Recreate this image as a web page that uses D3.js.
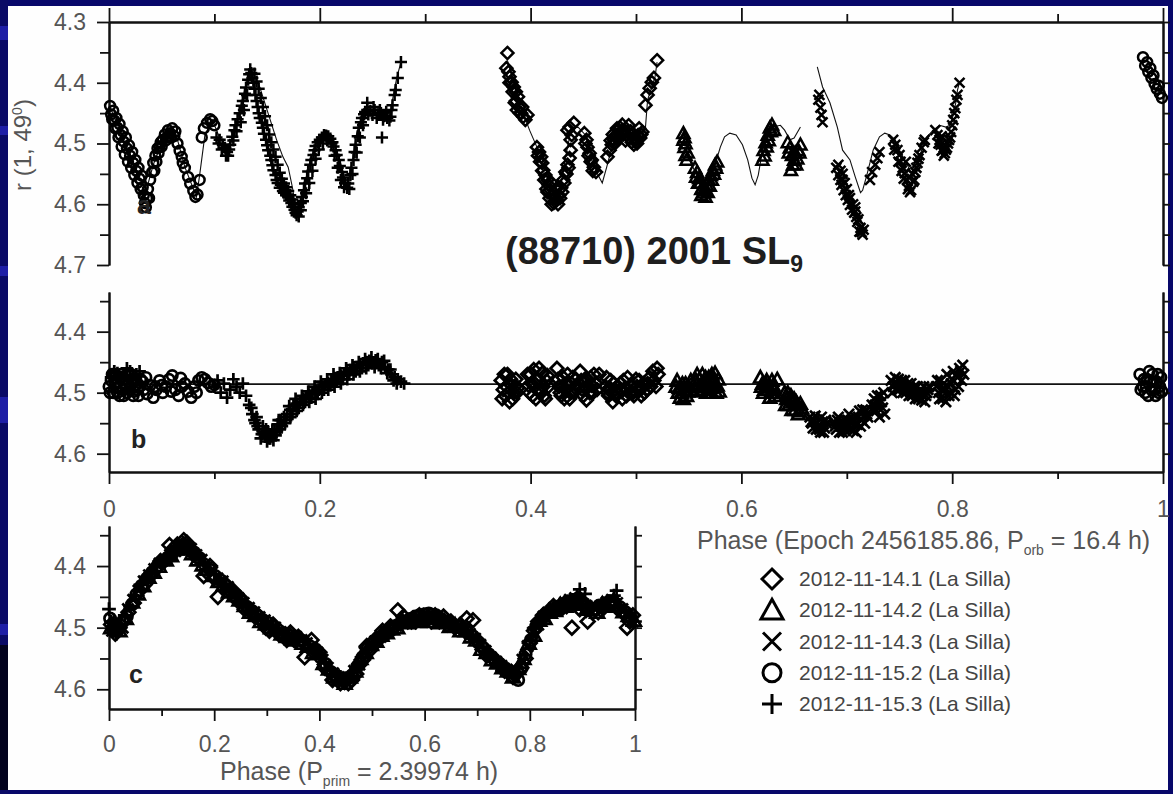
<!DOCTYPE html>
<html>
<head>
<meta charset="utf-8">
<script src="https://cdn.jsdelivr.net/npm/d3@7"></script>
<style>
  body { margin: 0; background: #08086a; }
  svg { display: block; }
  text { font-family: "Liberation Sans", Arial, sans-serif; }
</style>
</head>
<body>
<svg id="svg_lightcurve" width="1173" height="794"></svg>
<script>
// Light curve of (88710) 2001 SL9 - three panels (a: data + model, b: residual, c: folded on P_prim)

// Legend / sessions
const sessionLabels = ['2012-11-14.1 (La Silla)', '2012-11-14.2 (La Silla)', '2012-11-14.3 (La Silla)',
                       '2012-11-15.2 (La Silla)', '2012-11-15.3 (La Silla)'];
const sessionSymbols = ['diamond', 'triangle', 'cross', 'circle', 'plus'];

// Ticks
const phaseMajor = [0, 0.2, 0.4, 0.6, 0.8, 1];
const phaseMinor = [0.1, 0.3, 0.5, 0.7, 0.9];
const aMajor = [4.3, 4.4, 4.5, 4.6, 4.7];
const aMinor = [4.35, 4.45, 4.55, 4.65];
const bcMajor = [4.4, 4.5, 4.6];
const bcMinor = [4.35, 4.45, 4.55];
const residualLevel = 4.486;

// ---- Panel a: phase (orbital), r(1,49) ----
const a_circle = [
  [0.981,4.358],[0.983,4.372],[0.985,4.366],[0.986,4.382],[0.988,4.376],[0.989,4.392],[0.991,4.388],[0.992,4.402],[0.994,4.41],[0.996,4.405],[0.997,4.418],[0.999,4.425],
  [0.001,4.438],[0.002,4.452],[0.004,4.446],[0.005,4.462],[0.007,4.458],[0.008,4.474],[0.01,4.468],[0.011,4.486],[0.013,4.48],[0.014,4.497],[0.016,4.49],[0.017,4.508],
  [0.019,4.503],[0.02,4.52],[0.022,4.514],[0.023,4.532],[0.025,4.527],[0.026,4.545],[0.028,4.54],[0.029,4.558],[0.031,4.553],[0.032,4.572],[0.033,4.585],[0.034,4.598],
  [0.036,4.59],[0.037,4.575],[0.039,4.56],[0.041,4.547],[0.042,4.532],[0.044,4.52],[0.046,4.508],[0.047,4.516],[0.049,4.498],[0.051,4.494],[0.053,4.485],[0.055,4.49],
  [0.056,4.478],[0.058,4.483],[0.06,4.475],[0.062,4.488],[0.063,4.48],[0.065,4.5],[0.067,4.512],[0.069,4.522],[0.07,4.532],[0.072,4.54],[0.075,4.555],[0.077,4.566],
  [0.08,4.578],[0.082,4.588],[0.084,4.584],[0.086,4.56],[0.088,4.49],[0.09,4.475],[0.093,4.466],[0.096,4.46],[0.098,4.463],[0.1,4.47],
  [0.003,4.46],[0.006,4.475],[0.009,4.49],[0.012,4.505],[0.015,4.518],[0.018,4.53],[0.021,4.54],[0.024,4.552],[0.027,4.565],[0.03,4.575],[0.035,4.605],[0.038,4.59],
  [0.043,4.545],[0.045,4.53],[0.048,4.505],[0.05,4.505],[0.054,4.495],[0.057,4.488],[0.059,4.49]
];
const a_plus = [
  [0.102,4.49],[0.105,4.494],[0.108,4.502],[0.11,4.507],[0.112,4.514],[0.113,4.52],[0.115,4.502],[0.117,4.489],[0.119,4.478],[0.12,4.47],[0.122,4.46],[0.124,4.45],
  [0.126,4.438],[0.127,4.43],[0.129,4.418],[0.13,4.408],[0.132,4.395],[0.133,4.386],[0.134,4.378],[0.135,4.384],[0.136,4.392],[0.137,4.4],[0.138,4.41],[0.139,4.42],
  [0.14,4.43],[0.141,4.44],[0.142,4.45],[0.143,4.458],[0.145,4.466],[0.146,4.474],[0.147,4.484],[0.149,4.494],[0.15,4.503],[0.151,4.511],[0.153,4.52],[0.154,4.527],
  [0.155,4.536],[0.156,4.544],[0.158,4.552],[0.159,4.56],[0.16,4.565],[0.162,4.573],[0.163,4.568],[0.165,4.578],[0.166,4.581],[0.168,4.585],[0.17,4.588],[0.171,4.594],
  [0.173,4.598],[0.174,4.604],[0.176,4.609],[0.177,4.614],[0.178,4.618],[0.179,4.612],[0.18,4.605],[0.182,4.598],[0.183,4.588],[0.185,4.577],[0.186,4.566],[0.188,4.557],
  [0.189,4.546],[0.191,4.535],[0.192,4.527],[0.194,4.519],[0.195,4.511],[0.196,4.504],[0.198,4.498],[0.2,4.494],[0.202,4.49],[0.204,4.486],[0.206,4.487],[0.208,4.488],
  [0.21,4.492],[0.212,4.498],[0.213,4.505],[0.215,4.511],[0.216,4.519],[0.218,4.527],[0.219,4.537],[0.221,4.547],[0.222,4.556],[0.224,4.565],[0.226,4.573],[0.227,4.566],
  [0.229,4.552],[0.23,4.54],[0.232,4.527],[0.233,4.514],[0.234,4.502],[0.236,4.488],[0.237,4.474],[0.239,4.465],[0.24,4.458],[0.242,4.452],[0.243,4.448],[0.245,4.445],
  [0.245,4.433],[0.246,4.452],[0.248,4.446],[0.25,4.453],[0.251,4.44],[0.252,4.445],[0.254,4.458],[0.255,4.452],[0.257,4.445],[0.258,4.45],[0.259,4.49],[0.26,4.461],
  [0.261,4.455],[0.263,4.448],[0.264,4.458],[0.266,4.462],[0.267,4.456],[0.268,4.445],[0.269,4.437],[0.271,4.42],[0.272,4.412],[0.274,4.392],[0.277,4.366],
  [0.138,4.385],[0.14,4.398],[0.142,4.41],[0.144,4.425],[0.146,4.44],[0.148,4.455],[0.15,4.47],[0.152,4.485],[0.154,4.498],[0.156,4.51],[0.158,4.522],[0.16,4.535],
  [0.162,4.548],[0.164,4.558],[0.166,4.566],[0.168,4.572],[0.17,4.578],[0.172,4.585],[0.174,4.592],[0.176,4.6],[0.18,4.62],[0.182,4.61],[0.184,4.595],[0.187,4.582],
  [0.19,4.565],[0.193,4.545],[0.196,4.525],[0.199,4.51],[0.203,4.5],[0.207,4.495],[0.211,4.5],[0.214,4.52],[0.217,4.54],[0.22,4.56],[0.223,4.572],[0.228,4.575],
  [0.231,4.55],[0.235,4.515],[0.238,4.49],[0.241,4.47],
  [0.104,4.5],[0.107,4.51],[0.111,4.52],[0.114,4.51],[0.118,4.495],[0.121,4.48],[0.125,4.465],[0.128,4.445],[0.131,4.42]
];
const a_diamond = [
  [0.378,4.351],[0.377,4.376],[0.379,4.382],[0.38,4.39],[0.382,4.399],[0.384,4.407],[0.386,4.415],[0.388,4.423],[0.385,4.433],[0.387,4.445],[0.39,4.45],[0.393,4.456],
  [0.395,4.461],[0.397,4.453],[0.392,4.44],
  [0.406,4.506],[0.408,4.514],[0.41,4.522],[0.411,4.532],[0.412,4.544],[0.414,4.552],[0.416,4.56],[0.417,4.568],[0.419,4.577],[0.421,4.585],[0.423,4.59],[0.425,4.593],
  [0.427,4.585],[0.429,4.573],[0.431,4.56],[0.433,4.547],[0.435,4.535],[0.437,4.524],[0.438,4.511],[0.415,4.575],[0.42,4.565],[0.424,4.575],
  [0.435,4.478],[0.437,4.473],[0.439,4.486],[0.438,4.494],[0.441,4.466],
  [0.451,4.483],[0.453,4.494],[0.454,4.506],[0.456,4.516],[0.458,4.527],[0.46,4.539],[0.462,4.547],
  [0.473,4.522],[0.475,4.511],[0.477,4.502],[0.479,4.494],[0.481,4.486],[0.483,4.478],[0.485,4.474],[0.487,4.469],[0.489,4.478],[0.491,4.486],[0.492,4.481],[0.494,4.491],
  [0.496,4.498],[0.498,4.502],[0.5,4.494],[0.502,4.486],[0.504,4.491],[0.506,4.481],[0.48,4.5],[0.484,4.49],[0.49,4.495],[0.497,4.485],
  [0.509,4.437],[0.511,4.42],[0.513,4.409],[0.515,4.399],[0.517,4.392],[0.52,4.363],
  [0.407,4.52],[0.409,4.53],[0.411,4.545],[0.413,4.56],[0.416,4.58],[0.418,4.59],[0.42,4.6],[0.422,4.598],[0.426,4.6],[0.428,4.59],[0.43,4.58],[0.432,4.565],
  [0.434,4.55],[0.436,4.54],[0.452,4.5],[0.455,4.52],[0.457,4.53],[0.459,4.545],[0.476,4.495],[0.478,4.485],[0.482,4.475],[0.486,4.48],[0.488,4.485],[0.493,4.47],
  [0.495,4.48],[0.499,4.49],[0.501,4.5],[0.503,4.475],[0.505,4.485],[0.38,4.4],[0.383,4.415],[0.386,4.43],[0.389,4.44],[0.391,4.45]
];
const a_triangle = [
  [0.545,4.483],[0.545,4.494],[0.546,4.506],[0.547,4.519],[0.548,4.527],
  [0.556,4.54],[0.558,4.547],[0.56,4.557],[0.561,4.565],[0.563,4.573],[0.564,4.581],[0.565,4.577],[0.567,4.568],[0.569,4.56],[0.571,4.552],[0.573,4.544],[0.575,4.535],
  [0.577,4.53],[0.562,4.585],[0.566,4.588],
  [0.62,4.527],[0.621,4.511],[0.623,4.498],[0.625,4.486],[0.627,4.474],[0.629,4.469],[0.631,4.478],
  [0.644,4.498],[0.646,4.507],[0.648,4.519],[0.65,4.527],[0.652,4.535],[0.654,4.511],[0.656,4.502],[0.647,4.544],[0.651,4.515],
  [0.546,4.49],[0.547,4.5],[0.549,4.515],[0.557,4.555],[0.559,4.565],[0.562,4.575],[0.568,4.58],[0.57,4.57],[0.572,4.56],[0.574,4.55],[0.576,4.54],
  [0.622,4.52],[0.624,4.505],[0.626,4.495],[0.628,4.48],[0.645,4.515],[0.649,4.535],[0.653,4.525],[0.655,4.515]
];
const a_cross = [
  [0.673,4.428],[0.674,4.42],[0.675,4.441],[0.676,4.453],[0.677,4.465],
  [0.69,4.54],[0.692,4.552],[0.694,4.56],[0.695,4.568],[0.697,4.577],[0.699,4.585],[0.701,4.593],[0.703,4.601],[0.705,4.609],[0.707,4.614],[0.709,4.621],[0.71,4.629],
  [0.713,4.639],[0.714,4.646],[0.716,4.642],[0.696,4.56],[0.702,4.585],[0.708,4.605],
  [0.722,4.56],[0.724,4.547],[0.727,4.535],[0.729,4.524],[0.731,4.514],
  [0.744,4.494],[0.746,4.502],[0.748,4.511],[0.75,4.519],[0.751,4.53],[0.753,4.54],[0.755,4.549],[0.757,4.56],[0.759,4.57],[0.761,4.577],[0.763,4.563],[0.765,4.547],
  [0.767,4.532],[0.769,4.519],[0.771,4.507],[0.773,4.498],[0.774,4.494],[0.756,4.53],[0.762,4.55],
  [0.784,4.478],[0.786,4.486],[0.788,4.494],[0.789,4.502],[0.791,4.511],[0.793,4.516],[0.795,4.507],[0.797,4.494],[0.799,4.481],[0.801,4.461],[0.803,4.442],[0.804,4.428],
  [0.805,4.42],[0.807,4.4],[0.79,4.488],[0.796,4.5],
  [0.692,4.535],[0.694,4.545],[0.696,4.55],[0.698,4.565],[0.7,4.575],[0.703,4.59],[0.706,4.6],[0.708,4.612],[0.711,4.625],[0.712,4.645],[0.715,4.65],
  [0.745,4.51],[0.749,4.53],[0.752,4.545],[0.754,4.558],[0.758,4.575],[0.76,4.58],[0.764,4.56],[0.766,4.54],[0.768,4.525],
  [0.787,4.5],[0.79,4.512],[0.792,4.52],[0.794,4.51],[0.798,4.49],[0.8,4.47],[0.802,4.45]
];
// model curve (null = gap)
const a_model = [
  [0.001,4.44],[0.015,4.499],[0.032,4.598],[0.042,4.535],[0.051,4.494],[0.058,4.475],[0.065,4.494],[0.072,4.539],[0.083,4.588],[0.086,4.552],[0.091,4.486],[0.098,4.461],
  [0.105,4.491],[0.113,4.511],[0.12,4.474],[0.134,4.374],[0.143,4.407],[0.15,4.445],[0.159,4.494],[0.165,4.522],[0.17,4.539],[0.174,4.572],[0.178,4.618],[0.183,4.585],
  [0.191,4.527],[0.198,4.494],[0.205,4.483],[0.213,4.494],[0.219,4.527],[0.226,4.572],[0.231,4.527],[0.235,4.483],[0.24,4.456],[0.245,4.445],[0.252,4.45],[0.259,4.453],
  [0.267,4.45],[0.269,4.428],[0.273,4.392],[0.277,4.366],
  null,
  [0.378,4.363],[0.385,4.407],[0.393,4.45],[0.399,4.478],[0.406,4.506],[0.414,4.535],[0.421,4.58],[0.426,4.593],[0.431,4.544],[0.435,4.506],[0.439,4.474],[0.445,4.473],
  [0.452,4.486],[0.458,4.527],[0.464,4.552],[0.468,4.565],[0.472,4.54],[0.478,4.5],[0.485,4.481],[0.492,4.478],[0.499,4.489],[0.504,4.494],[0.509,4.473],[0.511,4.428],
  [0.515,4.407],[0.518,4.391],[0.52,4.366],
  null,
  [0.545,4.478],[0.547,4.511],[0.553,4.535],[0.561,4.565],[0.565,4.577],[0.57,4.565],[0.575,4.535],[0.58,4.506],[0.584,4.489],[0.589,4.483],[0.595,4.486],[0.601,4.502],
  [0.606,4.527],[0.61,4.557],[0.613,4.568],[0.616,4.552],[0.62,4.511],[0.623,4.486],[0.629,4.473],[0.637,4.47],[0.641,4.478],[0.646,4.494],[0.65,4.491],[0.656,4.473],
  null,
  [0.672,4.374],[0.677,4.407],[0.684,4.433],[0.691,4.473],[0.696,4.511],[0.703,4.527],[0.708,4.555],[0.713,4.581],[0.715,4.577],[0.719,4.552],[0.725,4.511],[0.731,4.489],
  [0.736,4.483],[0.741,4.486],[0.746,4.494],[0.75,4.511],[0.755,4.527],[0.76,4.544],[0.763,4.552],[0.767,4.535],[0.771,4.511],[0.776,4.489],[0.782,4.478],[0.788,4.47],
  [0.794,4.473],[0.798,4.47],[0.801,4.453],[0.804,4.428],[0.805,4.412],[0.807,4.399]
];

// ---- Panel b: residuals after removing the primary ----
const b_circle = [
  [0.0,4.49],[0.002,4.48],[0.004,4.5],[0.005,4.47],[0.007,4.492],[0.009,4.482],[0.01,4.505],[0.012,4.475],[0.013,4.495],[0.015,4.485],[0.017,4.5],[0.018,4.47],
  [0.02,4.49],[0.022,4.48],[0.024,4.498],[0.026,4.487],[0.028,4.505],[0.03,4.478],[0.033,4.495],[0.036,4.502],[0.039,4.488],[0.042,4.508],[0.045,4.495],[0.048,4.48],
  [0.051,4.5],[0.054,4.49],[0.057,4.478],[0.06,4.472],[0.063,4.495],[0.066,4.505],[0.069,4.49],[0.072,4.485],[0.075,4.498],[0.078,4.508],[0.081,4.49],[0.085,4.48],
  [0.088,4.475],[0.091,4.478],[0.094,4.484],[0.097,4.49],[0.1,4.487],
  [0.978,4.47],[0.981,4.49],[0.983,4.5],[0.985,4.478],[0.987,4.465],[0.989,4.495],[0.991,4.482],[0.993,4.505],[0.995,4.47],[0.997,4.49],[0.999,4.498],
  [0.001,4.5],[0.003,4.47],[0.006,4.485],[0.008,4.5],[0.011,4.47],[0.014,4.505],[0.016,4.478],[0.019,4.495],[0.021,4.47],[0.023,4.505],[0.025,4.48],[0.027,4.495],
  [0.029,4.49],[0.032,4.482],[0.035,4.475],[0.044,4.49],[0.05,4.488],[0.059,4.498],[0.068,4.476],[0.083,4.5],
  [0.979,4.495],[0.982,4.478],[0.984,4.49],[0.986,4.505],[0.988,4.48],[0.99,4.47],[0.992,4.495],[0.994,4.482],[0.996,4.5],[0.998,4.475]
];
const b_plus = [
  [0.002,4.475],[0.008,4.468],[0.014,4.472],[0.02,4.465],[0.026,4.47],
  [0.1,4.49],[0.103,4.48],[0.106,4.5],[0.109,4.485],[0.112,4.508],[0.115,4.495],[0.118,4.478],[0.121,4.49],[0.124,4.5],[0.127,4.485],[0.13,4.505],[0.133,4.52],
  [0.136,4.535],[0.139,4.55],[0.142,4.56],[0.145,4.568],[0.148,4.572],[0.151,4.565],[0.154,4.57],[0.157,4.56],[0.16,4.552],[0.163,4.545],[0.166,4.54],[0.169,4.535],
  [0.172,4.528],[0.175,4.522],[0.178,4.518],[0.181,4.515],[0.184,4.51],[0.187,4.508],[0.19,4.503],[0.193,4.5],[0.196,4.497],[0.199,4.495],[0.202,4.49],[0.205,4.487],
  [0.208,4.484],[0.211,4.48],[0.214,4.478],[0.217,4.475],[0.22,4.472],[0.223,4.47],[0.226,4.466],[0.229,4.463],[0.232,4.46],[0.235,4.458],[0.238,4.455],[0.241,4.452],
  [0.244,4.45],[0.247,4.448],[0.25,4.452],[0.253,4.447],[0.256,4.455],[0.259,4.45],[0.262,4.458],[0.265,4.462],[0.268,4.47],[0.271,4.475],[0.274,4.478],[0.277,4.482],
  [0.28,4.485],
  [0.14,4.54],[0.146,4.555],[0.15,4.58],[0.153,4.575],[0.158,4.57],[0.162,4.56],[0.167,4.55],[0.172,4.54],[0.178,4.53],[0.184,4.52],[0.19,4.515],[0.196,4.51],
  [0.202,4.5],[0.208,4.495],[0.214,4.49],[0.22,4.485],[0.226,4.478],[0.232,4.47],[0.238,4.465],[0.244,4.46],
  [0.005,4.465],[0.011,4.475],[0.017,4.46],[0.023,4.475],[0.029,4.465],[0.135,4.525],[0.138,4.545],[0.141,4.555],[0.144,4.575],[0.147,4.565],[0.149,4.56],[0.152,4.575],
  [0.155,4.562],[0.156,4.578],[0.159,4.565],[0.161,4.545],[0.164,4.555],[0.168,4.545],[0.171,4.522],[0.174,4.535],[0.177,4.51],[0.18,4.525],[0.183,4.505],[0.186,4.515],
  [0.189,4.498],[0.192,4.508],[0.195,4.49],[0.198,4.502],[0.201,4.482],[0.204,4.495],[0.207,4.478],[0.21,4.488],[0.213,4.47],[0.216,4.482],[0.219,4.468],[0.222,4.478],
  [0.225,4.46],[0.228,4.47],[0.231,4.455],[0.234,4.465],[0.237,4.45],[0.24,4.46],[0.243,4.445],[0.246,4.455],[0.249,4.442],[0.252,4.458],[0.255,4.445],[0.258,4.46],
  [0.261,4.448],[0.264,4.468],[0.267,4.462],[0.27,4.48],[0.273,4.485]
];
const b_diamond = [
  [0.372,4.48],[0.374,4.495],[0.376,4.505],[0.378,4.47],[0.38,4.515],[0.382,4.488],[0.384,4.5],[0.386,4.478],[0.388,4.492],
  [0.397,4.47],[0.399,4.5],[0.401,4.485],[0.403,4.462],[0.405,4.51],[0.407,4.478],[0.409,4.495],[0.411,4.468],[0.413,4.505],[0.415,4.48],[0.417,4.49],
  [0.425,4.46],[0.427,4.49],[0.429,4.505],[0.431,4.475],[0.433,4.495],[0.435,4.47],[0.437,4.51],[0.439,4.485],[0.441,4.5],[0.443,4.478],
  [0.447,4.465],[0.449,4.495],[0.451,4.48],[0.453,4.512],[0.455,4.49],[0.457,4.475],[0.459,4.5],[0.462,4.485],[0.465,4.47],
  [0.471,4.49],[0.474,4.505],[0.476,4.48],[0.478,4.515],[0.48,4.495],[0.482,4.5],[0.485,4.485],[0.487,4.51],[0.49,4.492],[0.492,4.475],
  [0.495,4.488],[0.497,4.5],[0.5,4.478],[0.502,4.495],[0.505,4.505],[0.507,4.485],[0.51,4.495],[0.513,4.475],[0.516,4.465],[0.519,4.49],[0.521,4.47],
  [0.373,4.51],[0.375,4.47],[0.377,4.49],[0.379,4.5],[0.381,4.478],[0.383,4.51],[0.385,4.49],[0.387,4.5],[0.398,4.488],[0.4,4.47],[0.402,4.505],[0.404,4.485],
  [0.406,4.495],[0.408,4.46],[0.41,4.5],[0.412,4.49],[0.414,4.51],[0.416,4.472],[0.426,4.478],[0.428,4.5],[0.43,4.49],[0.432,4.51],[0.434,4.485],[0.436,4.49],
  [0.438,4.5],[0.44,4.475],[0.442,4.492],[0.448,4.48],[0.45,4.505],[0.452,4.492],[0.454,4.478],[0.456,4.5],[0.458,4.488],[0.46,4.47],[0.463,4.495],[0.472,4.475],
  [0.473,4.5],[0.475,4.492],[0.477,4.5],[0.479,4.485],[0.481,4.505],[0.483,4.49],[0.486,4.498],[0.488,4.48],[0.491,4.505],[0.494,4.5],[0.496,4.49],[0.498,4.505],
  [0.501,4.49],[0.503,4.48],[0.506,4.492],[0.508,4.5],[0.511,4.485],[0.514,4.49],[0.517,4.48],[0.52,4.46]
];
const b_triangle = [
  [0.538,4.49],[0.54,4.5],[0.542,4.508],[0.544,4.485],[0.546,4.495],[0.548,4.505],[0.55,4.49],[0.552,4.48],
  [0.557,4.48],[0.559,4.49],[0.561,4.498],[0.563,4.47],[0.565,4.485],[0.567,4.5],[0.569,4.475],[0.571,4.492],[0.573,4.48],[0.575,4.468],[0.577,4.488],[0.579,4.498],
  [0.618,4.475],[0.62,4.485],[0.622,4.495],[0.624,4.48],[0.626,4.49],[0.628,4.5],[0.63,4.488],[0.632,4.505],[0.634,4.478],
  [0.641,4.5],[0.643,4.51],[0.645,4.52],[0.647,4.505],[0.649,4.515],[0.651,4.528],[0.653,4.52],[0.655,4.53],[0.657,4.525],
  [0.539,4.48],[0.541,4.492],[0.543,4.5],[0.545,4.51],[0.547,4.485],[0.549,4.498],[0.558,4.47],[0.56,4.478],[0.562,4.488],[0.564,4.495],[0.566,4.475],[0.568,4.485],
  [0.57,4.495],[0.572,4.47],[0.574,4.49],[0.576,4.5],[0.578,4.478],[0.619,4.49],[0.621,4.5],[0.623,4.485],[0.625,4.495],[0.627,4.508],[0.629,4.48],[0.631,4.495],
  [0.642,4.52],[0.644,4.5],[0.646,4.51],[0.648,4.528],[0.65,4.51],[0.652,4.515],[0.654,4.535],[0.656,4.518]
];
const b_cross = [
  [0.665,4.54],[0.667,4.55],[0.669,4.545],[0.671,4.56],[0.673,4.555],[0.675,4.565],[0.677,4.548],[0.679,4.558],[0.681,4.55],
  [0.688,4.548],[0.69,4.56],[0.692,4.54],[0.694,4.555],[0.696,4.565],[0.698,4.545],[0.7,4.558],[0.702,4.535],[0.704,4.55],[0.706,4.562],[0.708,4.54],[0.71,4.552],
  [0.712,4.53],[0.714,4.545],[0.716,4.538],[0.718,4.528],[0.72,4.54],
  [0.724,4.52],[0.726,4.51],[0.728,4.53],[0.73,4.515],[0.732,4.505],[0.734,4.525],[0.736,4.535],
  [0.742,4.48],[0.744,4.49],[0.746,4.475],[0.748,4.485],[0.75,4.495],[0.752,4.48],[0.754,4.49],[0.756,4.5],[0.758,4.485],[0.76,4.495],[0.762,4.505],[0.764,4.49],
  [0.766,4.5],[0.768,4.51],[0.77,4.495],[0.772,4.505],[0.774,4.515],[0.776,4.5],[0.778,4.49],
  [0.785,4.49],[0.787,4.5],[0.789,4.48],[0.791,4.51],[0.793,4.495],[0.795,4.47],[0.797,4.505],[0.799,4.485],[0.801,4.465],[0.803,4.495],[0.805,4.475],[0.807,4.46],
  [0.809,4.48],[0.811,4.47],
  [0.666,4.548],[0.668,4.558],[0.67,4.538],[0.672,4.55],[0.674,4.56],[0.676,4.54],[0.678,4.565],[0.68,4.545],[0.689,4.555],[0.691,4.545],[0.693,4.565],[0.695,4.548],
  [0.697,4.555],[0.699,4.562],[0.701,4.545],[0.703,4.56],[0.705,4.545],[0.707,4.552],[0.709,4.565],[0.711,4.54],[0.713,4.555],[0.715,4.528],[0.717,4.55],[0.719,4.535],
  [0.725,4.53],[0.727,4.52],[0.729,4.505],[0.731,4.54],[0.733,4.515],[0.735,4.5],[0.743,4.5],[0.745,4.485],[0.747,4.495],[0.749,4.478],[0.751,4.49],[0.753,4.5],
  [0.755,4.48],[0.757,4.495],[0.759,4.505],[0.761,4.485],[0.763,4.495],[0.765,4.51],[0.767,4.49],[0.769,4.5],[0.771,4.512],[0.773,4.49],[0.775,4.505],[0.777,4.495],
  [0.786,4.48],[0.788,4.51],[0.79,4.495],[0.792,4.485],[0.794,4.515],[0.796,4.49],[0.798,4.5],[0.8,4.478],[0.802,4.505],[0.804,4.47],[0.806,4.49],[0.808,4.465],[0.81,4.455]
];

// ---- Panel c: folded with P_prim = 2.39974 h ----
const c_diamond = [
  [0.004,4.495],[0.02,4.5],[0.037,4.475],[0.058,4.44],[0.08,4.415],[0.098,4.392],[0.115,4.366],[0.13,4.365],[0.142,4.358],[0.155,4.372],[0.17,4.388],[0.18,4.416],
  [0.192,4.4],[0.207,4.45],[0.22,4.428],[0.236,4.44],[0.25,4.452],[0.266,4.47],[0.283,4.48],[0.298,4.5],[0.312,4.495],[0.33,4.512],[0.345,4.508],[0.36,4.515],
  [0.372,4.548],[0.385,4.52],[0.4,4.54],[0.418,4.57],[0.432,4.582],[0.448,4.588],[0.462,4.585],[0.476,4.56],[0.49,4.53],[0.505,4.52],[0.52,4.505],[0.535,4.498],
  [0.549,4.472],[0.56,4.482],[0.575,4.49],[0.59,4.48],[0.605,4.487],[0.62,4.48],[0.636,4.482],[0.65,4.49],[0.668,4.495],[0.68,4.485],[0.692,4.488],[0.71,4.53],
  [0.728,4.548],[0.745,4.56],[0.76,4.57],[0.775,4.57],[0.792,4.55],[0.808,4.505],[0.825,4.48],[0.845,4.465],[0.862,4.468],[0.88,4.5],[0.895,4.47],[0.91,4.49],
  [0.93,4.475],[0.95,4.46],[0.968,4.47],[0.985,4.5],[0.996,4.48],
  [0.012,4.51],[0.028,4.49],[0.047,4.46],[0.068,4.43],[0.088,4.405],[0.107,4.39],[0.122,4.372],[0.136,4.37],[0.148,4.362],[0.162,4.382],[0.186,4.41],[0.2,4.42],
  [0.228,4.44],[0.243,4.455],[0.258,4.47],[0.275,4.48],[0.29,4.49],[0.305,4.505],[0.322,4.51],[0.338,4.52],[0.352,4.52],[0.392,4.538],[0.41,4.565],[0.425,4.585],
  [0.44,4.59],[0.455,4.59],[0.47,4.575],[0.483,4.552],[0.498,4.535],[0.512,4.52],[0.528,4.51],[0.542,4.5],[0.568,4.49],[0.583,4.49],[0.598,4.485],[0.613,4.49],
  [0.628,4.49],[0.643,4.495],[0.658,4.5],[0.7,4.52],[0.718,4.545],[0.736,4.555],[0.752,4.57],[0.768,4.58],[0.784,4.565],[0.8,4.525],[0.816,4.49],[0.835,4.475],
  [0.855,4.468],[0.87,4.465],[0.888,4.46],[0.903,4.465],[0.92,4.475],[0.94,4.468],[0.958,4.462],[0.976,4.475],[0.99,4.49]
];
const c_triangle = [
  [0.01,4.492],[0.032,4.485],[0.055,4.445],[0.075,4.418],[0.095,4.4],[0.118,4.383],[0.138,4.372],[0.158,4.38],[0.178,4.398],[0.198,4.415],[0.218,4.43],[0.238,4.448],
  [0.258,4.464],[0.278,4.48],[0.298,4.494],[0.318,4.503],[0.338,4.514],[0.358,4.52],[0.378,4.53],[0.398,4.542],[0.418,4.567],[0.438,4.582],[0.458,4.58],[0.478,4.55],
  [0.498,4.527],[0.518,4.512],[0.538,4.502],[0.558,4.49],[0.578,4.486],[0.598,4.482],[0.618,4.485],[0.638,4.49],[0.658,4.496],[0.678,4.505],[0.698,4.52],[0.718,4.54],
  [0.738,4.557],[0.758,4.57],[0.778,4.566],[0.798,4.525],[0.818,4.488],[0.838,4.475],[0.858,4.463],[0.878,4.458],[0.898,4.458],[0.918,4.47],[0.938,4.462],[0.958,4.458],
  [0.978,4.474],[0.998,4.488],
  [0.004,4.5],[0.02,4.505],[0.044,4.458],[0.065,4.432],[0.085,4.41],[0.108,4.39],[0.128,4.372],[0.148,4.37],[0.168,4.39],[0.188,4.405],[0.208,4.425],[0.228,4.442],
  [0.248,4.455],[0.268,4.475],[0.288,4.49],[0.308,4.5],[0.328,4.51],[0.348,4.518],[0.368,4.525],[0.388,4.54],[0.408,4.558],[0.428,4.58],[0.448,4.59],[0.468,4.57],
  [0.488,4.54],[0.508,4.522],[0.528,4.508],[0.548,4.5],[0.568,4.492],[0.588,4.49],[0.608,4.49],[0.628,4.492],[0.648,4.498],[0.668,4.505],[0.688,4.515],[0.708,4.535],
  [0.728,4.552],[0.748,4.565],[0.768,4.58],[0.788,4.55],[0.808,4.512],[0.828,4.485],[0.848,4.472],[0.868,4.465],[0.888,4.462],[0.908,4.47],[0.928,4.475],[0.948,4.465],
  [0.968,4.465],[0.988,4.48]
];
const c_cross = [
  [0.006,4.505],[0.026,4.5],[0.046,4.455],[0.066,4.425],[0.086,4.405],[0.106,4.39],[0.126,4.376],[0.146,4.368],[0.166,4.382],[0.186,4.402],[0.206,4.42],[0.226,4.434],
  [0.246,4.452],[0.266,4.468],[0.286,4.483],[0.306,4.495],[0.326,4.507],[0.346,4.513],[0.366,4.52],[0.386,4.531],[0.406,4.552],[0.426,4.574],[0.446,4.583],[0.466,4.57],
  [0.486,4.54],[0.506,4.522],[0.526,4.507],[0.546,4.497],[0.566,4.488],[0.586,4.485],[0.606,4.484],[0.626,4.486],[0.646,4.492],[0.666,4.5],[0.686,4.51],[0.706,4.528],
  [0.726,4.548],[0.746,4.562],[0.766,4.575],[0.786,4.552],[0.806,4.508],[0.826,4.482],[0.846,4.468],[0.866,4.46],[0.886,4.452],[0.906,4.464],[0.926,4.468],[0.946,4.459],
  [0.966,4.46],[0.986,4.478],
  [0.014,4.492],[0.036,4.47],[0.056,4.44],[0.076,4.415],[0.096,4.396],[0.116,4.382],[0.136,4.365],[0.156,4.372],[0.176,4.39],[0.196,4.41],[0.216,4.425],[0.236,4.445],
  [0.256,4.46],[0.276,4.475],[0.296,4.488],[0.316,4.5],[0.336,4.51],[0.356,4.515],[0.376,4.525],[0.396,4.54],[0.416,4.565],[0.436,4.58],[0.456,4.582],[0.476,4.56],
  [0.496,4.53],[0.516,4.515],[0.536,4.502],[0.556,4.49],[0.576,4.486],[0.596,4.48],[0.616,4.48],[0.636,4.488],[0.656,4.495],[0.676,4.505],[0.696,4.518],[0.716,4.538],
  [0.736,4.555],[0.756,4.568],[0.776,4.57],[0.796,4.53],[0.816,4.495],[0.836,4.475],[0.856,4.465],[0.876,4.455],[0.896,4.46],[0.916,4.475],[0.936,4.465],[0.956,4.455],
  [0.976,4.47],[0.996,4.49]
];
const c_circle = [
  [0.002,4.485],[0.016,4.5],[0.034,4.482],[0.052,4.446],[0.072,4.42],[0.092,4.4],[0.112,4.386],[0.132,4.37],[0.152,4.37],[0.172,4.387],[0.192,4.406],[0.212,4.423],
  [0.232,4.44],[0.252,4.457],[0.272,4.473],[0.292,4.487],[0.312,4.498],[0.332,4.509],[0.352,4.516],[0.372,4.524],[0.392,4.535],[0.412,4.559],[0.432,4.578],[0.452,4.584],
  [0.472,4.563],[0.492,4.533],[0.512,4.517],[0.532,4.503],[0.552,4.494],[0.572,4.486],[0.59,4.48],[0.6,4.478],[0.615,4.479],[0.63,4.485],[0.652,4.494],[0.672,4.502],
  [0.692,4.514],[0.712,4.534],[0.732,4.551],[0.752,4.567],[0.772,4.576],[0.778,4.585],[0.792,4.543],[0.812,4.498],[0.832,4.477],[0.852,4.466],[0.872,4.457],[0.892,4.452],
  [0.912,4.468],[0.932,4.464],[0.952,4.457],[0.972,4.467],[0.992,4.484],
  [0.009,4.505],[0.026,4.49],[0.044,4.462],[0.062,4.432],[0.082,4.41],[0.102,4.392],[0.122,4.378],[0.142,4.365],[0.162,4.378],[0.182,4.398],[0.202,4.416],[0.222,4.432],
  [0.242,4.45],[0.262,4.466],[0.282,4.48],[0.302,4.492],[0.322,4.504],[0.342,4.512],[0.362,4.52],[0.382,4.53],[0.402,4.548],[0.422,4.572],[0.442,4.585],[0.462,4.577],
  [0.482,4.548],[0.502,4.525],[0.522,4.51],[0.542,4.498],[0.562,4.49],[0.582,4.482],[0.608,4.477],[0.622,4.48],[0.642,4.49],[0.662,4.498],[0.682,4.508],[0.702,4.524],
  [0.722,4.543],[0.742,4.558],[0.762,4.572],[0.785,4.565],[0.802,4.52],[0.822,4.487],[0.842,4.472],[0.862,4.462],[0.882,4.455],[0.902,4.46],[0.922,4.47],[0.942,4.462],
  [0.962,4.46],[0.982,4.475]
];
const c_plus = [
  [0.0,4.47],[0.008,4.505],[0.022,4.495],[0.04,4.465],[0.06,4.43],[0.078,4.412],[0.1,4.396],[0.12,4.38],[0.14,4.362],[0.16,4.376],[0.18,4.396],[0.2,4.413],
  [0.22,4.43],[0.24,4.446],[0.26,4.466],[0.28,4.478],[0.3,4.492],[0.32,4.502],[0.34,4.512],[0.36,4.518],[0.38,4.528],[0.4,4.545],[0.42,4.568],[0.44,4.58],
  [0.46,4.578],[0.48,4.548],[0.5,4.525],[0.52,4.51],[0.54,4.5],[0.56,4.49],[0.58,4.485],[0.6,4.484],[0.62,4.485],[0.64,4.49],[0.66,4.497],[0.68,4.505],
  [0.7,4.522],[0.72,4.542],[0.74,4.558],[0.76,4.573],[0.78,4.565],[0.8,4.522],[0.82,4.487],[0.84,4.472],[0.86,4.462],[0.88,4.455],[0.895,4.438],[0.9,4.455],
  [0.92,4.47],[0.94,4.46],[0.96,4.448],[0.965,4.44],[0.98,4.475],[1.0,4.49],
  [0.004,4.49],[0.014,4.51],[0.03,4.48],[0.05,4.448],[0.07,4.418],[0.09,4.402],[0.11,4.39],[0.13,4.372],[0.15,4.365],[0.17,4.385],[0.19,4.405],[0.21,4.422],
  [0.23,4.438],[0.25,4.455],[0.27,4.47],[0.29,4.485],[0.31,4.498],[0.33,4.508],[0.35,4.515],[0.37,4.522],[0.39,4.535],[0.41,4.556],[0.43,4.576],[0.45,4.582],
  [0.47,4.565],[0.49,4.535],[0.51,4.518],[0.53,4.505],[0.55,4.495],[0.57,4.487],[0.59,4.485],[0.61,4.484],[0.63,4.487],[0.65,4.493],[0.67,4.5],[0.69,4.512],
  [0.71,4.532],[0.73,4.55],[0.75,4.566],[0.77,4.575],[0.79,4.545],[0.81,4.5],[0.83,4.478],[0.85,4.467],[0.87,4.458],[0.89,4.45],[0.905,4.445],[0.91,4.468],
  [0.93,4.465],[0.95,4.458],[0.97,4.465],[0.99,4.482]
];

// symbol outlines (open markers)
function symbolPath(type, r) {
  switch (type) {
    case 'diamond': return `M0,${-r}L${r},0L0,${r}L${-r},0Z`;
    case 'triangle': return `M0,${-r}L${r},${r * 0.8}L${-r},${r * 0.8}Z`;
    case 'cross': return `M${-r},${-r}L${r},${r}M${r},${-r}L${-r},${r}`;
    case 'circle': return `M${r},0A${r},${r} 0 1,1 ${-r},0A${r},${r} 0 1,1 ${r},0Z`;
    case 'plus': return `M${-r},0L${r},0M0,${-r}L0,${r}`;
  }
}
const dataRadius = { diamond: 5.5, triangle: 5.5, cross: 4.5, circle: 4.5, plus: 5.5 };

class LightCurveFigure {

  constructor() {
    this.svg = d3.select('#svg_lightcurve');

    // X-scales (phase)
    this.xWide = d3.scaleLinear().domain([0, 1]).range([109, 1163]);
    this.xNarrow = d3.scaleLinear().domain([0, 1]).range([109, 635]);

    // Y-scales (reversed magnitude)
    this.yA = d3.scaleLinear().domain([4.3, 4.7]).range([22, 265]);
    this.yB = d3.scaleLinear().domain([4.335, 4.63]).range([292, 472]);
    this.yC = d3.scaleLinear().domain([4.335, 4.632]).range([526, 709]);
  }

  draw() {
    this.drawBackground();
    this.drawPanelA();
    this.drawPanelB();
    this.drawPanelC();
    this.drawLegend();
  }

  drawBackground() {
    let svg = this.svg;
    svg.append('rect').attr('width', 1173).attr('height', 794).attr('fill', '#08086a');
    // slide template stripes on the left edge
    svg.append('rect').attr('x', 0).attr('y', 0).attr('width', 8).attr('height', 794).attr('fill', '#0a0a66');
    [[26, 14], [126, 9], [266, 10], [397, 26], [624, 11]].forEach(([y, h]) => {
      svg.append('rect').attr('x', 0).attr('y', y).attr('width', 8).attr('height', h).attr('fill', '#1e1ea6');
    });
    svg.append('rect').attr('x', 0).attr('y', 645).attr('width', 8).attr('height', 145).attr('fill', '#03031e');
    // white figure area
    svg.append('rect').attr('x', 8).attr('y', 6).attr('width', 1160).attr('height', 784).attr('fill', '#fefefe');
  }

  styleAxis(g, labels) {
    g.select('.domain').attr('stroke', '#111').attr('stroke-width', 2);
    g.selectAll('.tick line').attr('stroke', '#111').attr('stroke-width', 1.8);
    if (labels) {
      g.selectAll('.tick text').attr('fill', '#555').attr('font-size', 23)
       .attr('font-family', '"Liberation Sans", Arial, sans-serif');
    } else {
      g.selectAll('.tick text').remove();
    }
  }

  // major + minor ticks on one side
  addAxis(axisFn, scale, major, minor, majorSize, minorSize, x, y, labels, pad) {
    let gMinor = this.svg.append('g').attr('transform', `translate(${x}, ${y})`)
      .call(axisFn(scale).tickValues(minor).tickSize(minorSize).tickSizeOuter(0).tickFormat(''));
    this.styleAxis(gMinor, false);
    let gMajor = this.svg.append('g').attr('transform', `translate(${x}, ${y})`)
      .call(axisFn(scale).tickValues(major).tickSize(majorSize).tickSizeOuter(0)
            .tickPadding(pad || 3).tickFormat(d => String(d)));
    this.styleAxis(gMajor, labels);
    return gMajor;
  }

  // open markers; k scales marker size per panel
  drawMarkers(data, type, xScale, yScale, k, sw) {
    this.svg.append('g')
      .selectAll('path')
      .data(data)
      .join('path')
      .attr('transform', d => `translate(${xScale(d[0])}, ${yScale(d[1])})`)
      .attr('d', symbolPath(type, dataRadius[type] * k))
      .attr('fill', 'none')
      .attr('stroke', '#000')
      .attr('stroke-width', sw);
  }

  drawPanelA() {
    let x = this.xWide, y = this.yA;
    // Axes: top (no labels), left (labels), right
    this.addAxis(d3.axisTop, x, phaseMajor, phaseMinor, 14, 8, 0, 22, false);
    this.addAxis(d3.axisLeft, y, aMajor, aMinor, 12, 9, 109, 0, true, 11);
    this.addAxis(d3.axisRight, y, aMajor, aMinor, 7, 7, 1163, 0, false);

    // model curve
    let line = d3.line().defined(d => d !== null).x(d => x(d[0])).y(d => y(d[1]));
    this.svg.append('path').datum(a_model).attr('d', line)
      .attr('fill', 'none').attr('stroke', '#111').attr('stroke-width', 1.1);

    this.drawMarkers(a_circle, 'circle', x, y, 1.1, 2.5);
    this.drawMarkers(a_plus, 'plus', x, y, 1.1, 2.5);
    this.drawMarkers(a_diamond, 'diamond', x, y, 1.1, 2.5);
    this.drawMarkers(a_triangle, 'triangle', x, y, 1.1, 2.5);
    this.drawMarkers(a_cross, 'cross', x, y, 1.1, 2.5);

    // y title
    let t = this.svg.append('text')
      .attr('transform', 'translate(31, 145) rotate(-90)')
      .attr('text-anchor', 'middle').attr('fill', '#555').attr('font-size', 24);
    t.append('tspan').text('r (1, 49');
    t.append('tspan').attr('font-size', 14).attr('dy', -9).text('0');
    t.append('tspan').attr('dy', 9).text(')');

    // panel letter + object name
    this.svg.append('text').attr('x', 137).attr('y', 214).attr('font-size', 25)
      .attr('font-weight', 'bold').attr('fill', '#222').text('a');
    let title = this.svg.append('text').attr('x', 505).attr('y', 264)
      .attr('font-size', 38).attr('font-weight', 'bold').attr('fill', '#1e1e1e');
    title.append('tspan').text('(88710) 2001 SL');
    title.append('tspan').attr('font-size', 23).attr('dy', 8).text('9');
  }

  drawPanelB() {
    let x = this.xWide, y = this.yB;
    this.addAxis(d3.axisBottom, x, phaseMajor, phaseMinor, 12, 7, 0, 472, true, 17);
    this.addAxis(d3.axisLeft, y, bcMajor, bcMinor, 12, 9, 109, 0, true, 11);
    this.addAxis(d3.axisRight, y, bcMajor, bcMinor, 7, 7, 1163, 0, false);

    // mean level
    this.svg.append('line')
      .attr('x1', x(0)).attr('x2', x(1))
      .attr('y1', y(residualLevel)).attr('y2', y(residualLevel))
      .attr('stroke', '#111').attr('stroke-width', 1.6);

    this.drawMarkers(b_circle, 'circle', x, y, 1.15, 2.7);
    this.drawMarkers(b_plus, 'plus', x, y, 1.15, 2.7);
    this.drawMarkers(b_diamond, 'diamond', x, y, 1.15, 2.7);
    this.drawMarkers(b_triangle, 'triangle', x, y, 1.15, 2.7);
    this.drawMarkers(b_cross, 'cross', x, y, 1.15, 2.7);

    this.svg.append('text').attr('x', 131).attr('y', 448).attr('font-size', 25)
      .attr('font-weight', 'bold').attr('fill', '#222').text('b');

    let t = this.svg.append('text').attr('x', 697).attr('y', 549)
      .attr('fill', '#555').attr('font-size', 25);
    t.append('tspan').text('Phase (Epoch 2456185.86, P');
    t.append('tspan').attr('font-size', 14).attr('dy', 6).text('orb');
    t.append('tspan').attr('dy', -6).text(' = 16.4 h)');
  }

  drawPanelC() {
    let x = this.xNarrow, y = this.yC;
    this.addAxis(d3.axisBottom, x, phaseMajor, phaseMinor, 12, 7, 0, 709, true, 15);
    this.addAxis(d3.axisLeft, y, bcMajor, bcMinor, 12, 9, 109, 0, true, 11);
    this.addAxis(d3.axisRight, y, bcMajor, bcMinor, 7, 7, 635, 0, false);

    this.drawMarkers(c_diamond, 'diamond', x, y, 1.25, 2.7);
    this.drawMarkers(c_triangle, 'triangle', x, y, 1.25, 2.7);
    this.drawMarkers(c_cross, 'cross', x, y, 1.25, 2.7);
    this.drawMarkers(c_circle, 'circle', x, y, 1.25, 2.7);
    this.drawMarkers(c_plus, 'plus', x, y, 1.25, 2.7);

    this.svg.append('text').attr('x', 129).attr('y', 683).attr('font-size', 25)
      .attr('font-weight', 'bold').attr('fill', '#222').text('c');

    let t = this.svg.append('text').attr('x', 220).attr('y', 780)
      .attr('fill', '#555').attr('font-size', 25);
    t.append('tspan').text('Phase (P');
    t.append('tspan').attr('font-size', 14).attr('dy', 6).text('prim');
    t.append('tspan').attr('dy', -6).text(' = 2.39974 h)');
  }

  drawLegend() {
    let rowY = d3.scalePoint().domain(d3.range(sessionLabels.length)).range([579, 704]);
    let legendRadius = { diamond: 10, triangle: 11, cross: 9, circle: 9, plus: 10 };
    let rows = this.svg.append('g').selectAll('g')
      .data(sessionLabels)
      .join('g')
      .attr('transform', (d, i) => `translate(772, ${rowY(i)})`);
    rows.append('path')
      .attr('d', (d, i) => symbolPath(sessionSymbols[i], legendRadius[sessionSymbols[i]]))
      .attr('fill', 'none').attr('stroke', '#000').attr('stroke-width', 3);
    rows.append('text')
      .attr('x', 27).attr('y', 7)
      .attr('font-size', 21).attr('fill', '#444')
      .text(d => d);
  }
}

let fig = new LightCurveFigure();
fig.draw();
</script>
</body>
</html>
